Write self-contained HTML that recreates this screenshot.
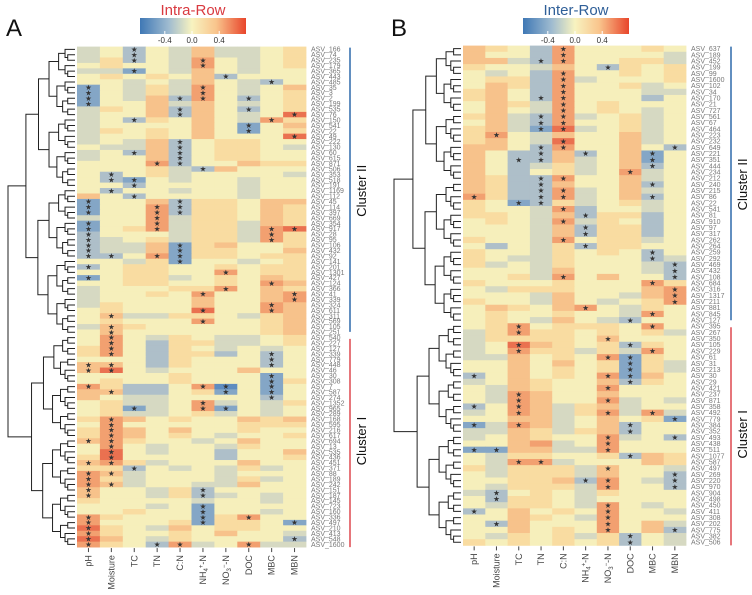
<!DOCTYPE html>
<html><head><meta charset="utf-8"><style>
body{margin:0;background:#fff;}
svg{display:block;font-family:"Liberation Sans",Arial,sans-serif;}
</style></head><body>
<svg id="chart" width="752" height="595" viewBox="0 0 752 595" xmlns="http://www.w3.org/2000/svg">
<defs>
<linearGradient id="cbar" x1="0" x2="1" y1="0" y2="0">
<stop offset="0" stop-color="#3f78b5"/><stop offset="0.27" stop-color="#9fbbd0"/>
<stop offset="0.49" stop-color="#f8f3c0"/><stop offset="0.72" stop-color="#f9c48c"/>
<stop offset="1" stop-color="#e8452b"/></linearGradient>
</defs>
<g id="panelA"></g>
<g id="panelB"></g>
</svg>
<script>
const variables = ["pH","Moisture","TC","TN","C:N","NH4+-N","NO3--N","DOC","MBC","MBN"];
const labelsA = [166,74,235,179,365,443,485,35,3,2,199,535,76,150,541,22,49,222,130,60,615,871,506,353,518,191,1169,112,45,114,397,669,354,917,28,95,106,432,92,141,201,1301,427,124,366,41,339,324,611,311,569,105,251,540,227,127,339,779,448,46,30,308,7,587,274,1352,965,289,168,595,216,617,694,13,535,436,451,371,88,189,242,151,187,145,723,160,336,497,210,413,548,1600];
const labelsB = [637,189,452,199,99,1600,102,34,170,21,727,561,67,464,223,232,649,221,351,444,234,212,240,215,86,22,541,81,910,97,317,262,264,259,292,469,432,108,684,316,1317,211,881,845,127,395,267,350,105,229,61,31,213,30,29,421,237,871,358,492,779,384,352,493,438,511,1077,587,497,269,220,970,904,498,450,411,308,202,775,382,506];
const valueUnit = 0.15;
const valuesA = [
[-1,0,-2,0,-1,2,-1,-1,0,1],[-1,0,-2,0,-1,2,-1,-1,0,1],[-1,1,-2,0,-1,3,0,-1,0,1],[0,1,0,0,-1,3,0,-1,0,1],[-1,-1,-3,0,-1,2,0,-1,0,0],
[0,1,0,1,0,2,-2,0,0,0],[0,0,-1,0,-1,2,0,-1,-2,0],[-3,0,-1,1,-1,3,0,-1,0,2],[-3,0,-1,1,-1,3,0,-1,0,1],[-3,0,-1,2,-2,3,0,-2,0,1],
[-3,0,0,2,-1,2,0,-1,0,1],[-1,1,0,2,-2,2,0,-2,0,1],[-1,0,0,2,-2,2,0,-1,0,4],[-1,0,-2,1,0,2,0,-1,3,1],[-1,0,0,0,0,2,0,-3,0,2],
[-1,1,0,1,0,2,0,-3,0,1],[-1,0,0,1,0,2,0,0,0,4],[-1,0,-1,2,-2,0,1,1,0,0],[0,-1,-1,2,-2,0,1,1,0,-1],[-1,0,-2,2,-2,0,1,1,0,0],
[-1,0,0,2,-2,0,1,1,0,0],[0,0,0,3,-2,0,0,2,1,1],[0,0,0,1,-1,-2,2,0,0,0],[0,-2,0,1,-1,0,0,0,0,-1],[0,-2,-3,0,-1,0,0,-1,0,0],
[0,0,-2,0,0,0,0,-1,0,0],[0,-2,0,0,-1,0,0,-1,0,0],[2,0,-2,0,0,0,0,-1,0,0],[-3,0,0,2,-2,1,1,0,2,2],[-3,0,0,3,-2,1,1,0,2,1],
[-3,0,0,3,-2,1,1,0,2,1],[-1,0,0,3,-1,1,1,0,2,1],[-3,0,0,3,-1,1,1,-1,2,1],[-3,0,1,3,-1,1,1,-1,3,4],[-2,0,0,0,-1,1,1,-1,3,1],
[-2,-1,0,1,-1,1,1,-1,3,1],[-2,-1,-1,2,-3,1,2,0,0,1],[-2,-1,-1,2,-3,1,1,0,0,2],[-2,-2,0,3,-3,1,1,0,1,1],[0,0,-1,1,-3,0,0,-1,0,1],
[-2,0,1,1,0,0,1,0,1,1],[0,0,1,1,0,0,3,0,1,1],[-3,0,1,1,-1,0,1,0,2,1],[0,0,1,1,0,0,1,0,3,2],[-1,0,0,0,1,1,3,0,2,1],
[-1,0,0,1,0,3,0,0,2,3],[-1,0,0,0,0,2,0,0,2,3],[-1,1,0,0,0,2,0,0,3,2],[0,1,0,0,0,4,0,0,3,2],[0,2,-1,-1,1,1,0,-1,1,2],
[0,1,0,0,0,3,0,0,1,2],[-1,2,1,0,0,0,0,0,1,2],[0,2,0,0,0,0,0,0,1,2],[0,3,0,-1,1,0,-1,-1,0,1],[0,3,0,-2,1,1,-1,-1,0,1],
[1,3,0,-2,1,0,-1,0,-1,0],[1,3,0,-2,1,1,-2,0,-2,0],[0,0,0,-2,1,0,0,0,-2,0],[2,2,0,-2,1,0,0,0,-2,0],[2,4,0,-1,0,0,0,2,0,0],
[0,0,0,0,1,0,0,0,-3,0],[0,1,0,0,1,0,0,0,-3,1],[3,1,-2,-2,0,3,-4,0,-3,0],[2,2,-2,-2,0,1,-3,0,-3,0],[2,0,-1,-1,0,0,0,0,-2,0],
[0,1,-1,-1,0,3,-1,0,-1,1],[0,1,-3,-1,0,3,-3,0,-1,0],[0,1,-1,-1,0,1,-1,0,-1,0],[1,3,2,0,1,0,0,2,1,2],[0,3,0,0,0,0,0,1,1,1],
[1,3,2,0,2,0,0,1,0,0],[1,3,2,0,1,0,-1,0,0,1],[2,3,1,0,0,-1,0,2,0,0],[0,3,0,-1,0,0,-1,1,0,0],[0,4,0,-1,0,0,-2,0,0,2],
[1,4,0,0,0,0,-2,0,0,1],[2,3,1,-1,0,0,0,2,0,0],[1,1,-2,0,-1,0,-1,1,-1,0],[3,2,-1,0,0,0,-1,0,0,0],[3,1,-1,0,0,0,-1,1,-1,0],
[3,2,-1,0,0,-1,-1,2,0,0],[2,0,0,-1,1,-2,0,0,0,0],[2,0,0,-1,1,-2,-1,0,-1,0],[1,0,0,0,0,-1,0,0,-1,0],[0,0,0,-1,0,-3,0,0,0,0],
[0,0,1,0,0,-3,0,0,-1,0],[3,1,0,0,0,-3,1,3,0,0],[3,0,0,0,1,-3,1,1,0,-3],[4,1,0,-1,2,0,1,1,0,0],[3,1,0,0,1,0,2,0,0,-1],
[4,2,0,-1,1,0,0,0,0,-2],[3,1,0,-2,3,-1,0,3,-1,-1]];
const starsA = ["0010000000","0010000000","0010010000","0000010000","0010000000","0000001000","0000000010","1000010000","1000010000","1000110100",
"1000000000","0000100100","0000100001","0010000010","0000000100","0000000100","0000000001","0000100000","0000100000","0010100000",
"0000100000","0001100000","0000010000","0100000000","0110000000","0010000000","0100000000","0010000000","1000100000","1001100000",
"1001100000","0001000000","1001000000","1001000011","1000000010","1000000010","1000100000","1000100000","1101100000","0000100000",
"1000000000","0000001000","1000000000","0000000010","0000001000","0000010001","0000000001","0000000010","0000010010","0100000000",
"0000010000","0100000000","0100000000","0100000000","0100000000","0100000000","0100000010","0000000010","1100000010","1100000000",
"0000000010","0000000010","1000011010","0100001010","0000000010","0000010000","0010011000","0000000000","0100000000","0100000000",
"0100000000","0100000000","1100000000","0100000000","0100000000","0100000000","1100000000","0010000000","1100000000","1000000000",
"1100000000","1000010000","1000010000","0000000000","0000010000","0000010000","1000010100","1000010001","1000000000","1000000000",
"1000000001","1001100100"];
const valuesB = [
[2,1,0,-2,3,0,0,0,1,0],[2,0,0,-2,3,0,0,0,0,-1],[2,2,-1,-2,3,0,0,1,1,-1],[1,0,0,-1,2,0,-2,1,0,1],[0,-1,0,-2,3,0,0,1,0,1],
[0,1,1,-2,3,-1,0,0,0,1],[0,2,1,-2,3,0,0,1,-1,0],[1,2,0,-2,3,0,0,0,-1,-1],[1,2,0,-2,3,0,0,0,-2,0],[0,2,1,-1,3,0,1,0,0,0],
[0,2,0,-1,3,0,1,0,-1,0],[1,2,-1,-2,3,-1,0,1,-1,0],[0,2,-1,-2,3,0,0,1,-1,0],[1,2,-1,-3,4,-1,0,1,-1,0],[1,3,0,-1,2,0,0,2,-1,0],
[1,2,0,-1,4,0,0,2,-1,0],[2,2,0,-2,3,0,0,2,0,-2],[2,0,-2,-2,2,-2,0,2,-3,0],[2,0,-2,-2,2,-1,0,2,-3,0],[2,0,-2,-1,1,-1,0,2,-2,0],
[2,0,-2,0,1,-1,0,3,-1,0],[2,1,-2,-2,3,0,0,2,-1,0],[2,1,-2,-2,2,0,0,2,-2,0],[2,1,-2,-2,3,-1,0,2,-1,0],[3,1,-2,-2,3,-1,0,2,-2,0],
[1,0,-3,-2,1,-1,0,1,-1,0],[1,0,0,-1,3,-2,0,0,-1,0],[1,1,0,-1,2,-2,1,1,-2,0],[0,1,0,-1,3,-1,1,0,-2,0],[0,0,0,-1,2,-2,1,1,-2,0],
[0,0,0,-1,2,-2,1,1,-2,0],[1,0,0,-1,3,0,1,1,-1,0],[0,-2,0,-1,1,-2,1,1,0,0],[1,0,0,-1,1,0,1,0,-2,0],[1,0,-1,-1,1,0,0,0,-2,-1],
[1,-1,0,-1,1,0,0,0,-1,-2],[0,0,0,-1,2,0,0,0,-1,-2],[0,0,1,-1,3,0,2,0,0,-2],[1,0,0,0,1,0,0,0,3,1],[0,-1,1,1,1,0,0,0,2,3],
[0,0,0,-1,2,0,0,-1,2,3],[1,0,0,-1,2,0,-1,0,1,3],[0,2,1,0,2,3,0,-1,1,0],[0,1,0,0,1,0,0,-1,3,0],[0,1,0,-1,2,0,-1,-2,0,0],
[0,1,3,0,1,1,1,0,3,0],[-1,1,3,1,1,0,1,0,1,-1],[-1,1,1,1,1,0,2,0,0,0],[-1,0,4,2,1,0,1,-2,1,0],[-1,0,3,1,1,-1,1,-1,3,0],
[-1,-1,2,0,1,0,3,-3,1,0],[0,0,2,0,2,0,1,-3,1,-1],[0,0,2,0,1,0,1,-3,1,-1],[-2,0,2,0,1,0,3,-3,2,0],[-1,0,2,1,0,0,2,-2,1,0],
[0,-1,2,1,0,0,3,0,0,0],[0,-1,3,2,0,0,2,0,0,0],[0,-1,3,2,0,0,3,-1,0,-1],[-2,0,3,2,-1,1,2,-1,0,0],[-1,0,3,2,-1,1,3,-1,3,-1],
[0,0,2,2,-1,0,2,0,1,-3],[-3,-1,3,2,-1,0,2,-2,0,0],[-1,-1,2,1,-1,1,2,-2,0,0],[-1,0,2,1,0,0,3,-1,0,-2],[0,0,2,3,-1,0,3,0,0,0],
[-3,-3,2,2,-1,-1,3,0,0,0],[0,-1,1,1,0,0,1,-2,2,1],[0,-1,3,3,-1,0,0,0,2,1],[1,-1,1,1,1,-1,2,0,0,-1],[0,-1,1,1,1,-1,2,0,0,-2],
[0,0,1,1,2,-2,3,0,-1,-2],[0,-1,1,1,1,-1,3,0,0,-2],[-1,-2,0,1,0,-1,1,0,0,0],[0,-2,1,1,0,-1,0,0,0,0],[0,-1,1,1,0,-1,3,0,-1,0],
[-2,0,2,0,1,0,3,0,0,-1],[0,0,2,1,0,-1,3,0,0,0],[0,-2,2,0,0,0,3,0,2,-1],[0,0,2,0,1,0,3,0,2,-2],[0,-1,1,0,1,-1,1,-2,0,-1],
[1,0,1,0,1,0,1,-2,0,-1]];
const starsB = ["0000100000","0000100000","0001100000","0000001000","0000100000","0000100000","0000100000","0000100000","0001100000","0000100000",
"0000100000","0001100000","0001100000","0001100000","0100000000","0000100000","0001100001","0001010010","0011000010","0000000010",
"0000000100","0001100000","0001000010","0001100000","1001100010","0011000000","0000100000","0000010000","0000100000","0000010000",
"0000010000","0000100000","0000010000","0000000010","0000000010","0000000001","0000000001","0000100001","0000000010","0000000001",
"0000000001","0000000001","0000010000","0000000010","0000000100","0010000010","0010000000","0000001000","0010000100","0010000010",
"0000001100","0000000100","0000000100","1000001100","0000000100","0000001000","0010000000","0010001000","1010000000","0010001010",
"0000000001","1010000100","0000000100","0000001001","0000001000","1100001000","0000000100","0011000000","0000001000","0000000001",
"0000011001","0000001001","0100000000","0100000000","0000001000","1000001000","0000001000","0100001000","0000001001","0000000100",
"0000000100"];
const tickValues = [-0.4, 0.0, 0.4];

const NS="http://www.w3.org/2000/svg";
function mk(tag, attrs, parent){const e=document.createElementNS(NS,tag);for(const k in attrs)e.setAttribute(k,attrs[k]);if(parent)parent.appendChild(e);return e;}
const stops=[[-0.6,[94,140,192]],[-0.45,[132,166,198]],[-0.3,[174,191,201]],[-0.15,[214,217,194]],[0,[246,239,187]],[0.15,[249,220,161]],[0.3,[247,194,139]],[0.45,[242,160,112]],[0.6,[234,113,80]]];
function color(v){v=Math.max(-0.6,Math.min(0.6,v));for(let i=0;i<stops.length-1;i++){const a=stops[i],b=stops[i+1];if(v<=b[0]){const t=(v-a[0])/(b[0]-a[0]);const c=a[1].map((x,j)=>Math.round(x+(b[1][j]-x)*t));return `rgb(${c})`;}}return 'rgb(234,113,80)';}

function drawPanel(g, cfg){
  const {x0,y0,colW,rowH,values,stars,labels,split,rootX,title,titleColor,cbX,letter,letterX,lineX,clusterLabelX} = cfg;
  const n=values.length;
  const xs=c=>x0+c*colW, ys=r=>y0+r*rowH;
  mk('text',{x:letterX,y:36,'font-size':24,fill:'#111',},g).textContent=letter;
  const t=mk('text',{x:cbX+53,y:15,'font-size':15,fill:titleColor,'text-anchor':'middle'},g);t.textContent=title;
  
  
  const cb=mk('rect',{x:cbX,y:18,width:106,height:16,fill:'url(#cbar)'},g);
  
  
  const cbScale=v=>cbX+52+v*68;
  tickValues.forEach(v=>{
    mk('line',{x1:cbScale(v),x2:cbScale(v),y1:31,y2:34,stroke:'#fff','stroke-width':1},g);
    const tl=mk('text',{x:cbScale(v),y:43,'font-size':8,fill:'#333','text-anchor':'middle'},g);
    tl.textContent=v.toFixed(1);
    
    
  });
  const hm=mk('g',{},g);
  
  
  for(let r=0;r<n;r++)for(let c=0;c<10;c++){
    const cell=mk('rect',{x:xs(c),y:ys(r),width:colW+0.4,height:rowH+0.4,fill:color(values[r][c]*valueUnit)},hm);
    
    
    if(stars[r][c]==='1'){
      const s=mk('text',{x:xs(c)+colW/2,y:ys(r)+rowH/2+2.6,'font-size':7.5,fill:'#333','text-anchor':'middle'},hm);
      s.textContent='★';
      
      
    }
  }
  labels.forEach((l,r)=>{
    const tx=mk('text',{x:xs(10)+5,y:ys(r)+rowH/2+2.4,'font-size':7,fill:'#777'},g);
    tx.textContent='ASV_'+l;
    
    
  });
  const yb=ys(n);
  variables.forEach((v,c)=>{
    const cx=xs(c)+colW/2;
    mk('line',{x1:cx,x2:cx,y1:yb+1,y2:yb+5,stroke:'#444','stroke-width':1},g);
    const tx=mk('text',{transform:`translate(${cx+3},${yb+8}) rotate(-90)`,'font-size':9,fill:'#444','text-anchor':'end'},g);
    
    
    if(v==='NH4+-N'){tx.innerHTML='NH<tspan font-size="6" dy="2">4</tspan><tspan font-size="6" dy="-5">+</tspan><tspan dy="3">-N</tspan>';}
    else if(v==='NO3--N'){tx.innerHTML='NO<tspan font-size="6" dy="2">3</tspan><tspan font-size="6" dy="-5">−</tspan><tspan dy="3">-N</tspan>';}
    else tx.textContent=v;
  });
  // dendrogram
  const leafX=x0-2, N=n;
  const dg=mk('g',{stroke:'#222','stroke-width':1,fill:'none'},g);
  
  
  function build(lo,hi,isRoot){
    const size=hi-lo;
    if(size===1)return {x:leafX,y:ys(lo)+rowH/2};
    let m=isRoot?lo+split:lo+Math.floor(size/2);
    const a=build(lo,m,false),b=build(m,hi,false);
    const x=isRoot?rootX:leafX-5-(leafX-rootX-12)*Math.pow(Math.log(size)/Math.log(N),1.7);
    mk('path',{d:`M${a.x},${a.y}H${x}V${b.y}H${b.x}`},dg);
    return {x:x,y:(a.y+b.y)/2};
  }
  build(0,n,true);
  // cluster bars
  const yS=ys(split);
  mk('line',{x1:lineX,x2:lineX,y1:ys(0)+1,y2:yS-3,stroke:'#3b73b0','stroke-width':1.6,},g);
  mk('line',{x1:lineX,x2:lineX,y1:yS+4,y2:yb,stroke:'#e0545a','stroke-width':1.6,},g);
  const c2=mk('text',{transform:`translate(${clusterLabelX},${(ys(0)+yS)/2}) rotate(-90)`,'font-size':13,fill:'#111','text-anchor':'middle'},g);c2.textContent='Cluster II';
  
  
  const c1=mk('text',{transform:`translate(${clusterLabelX},${(yS+yb)/2}) rotate(-90)`,'font-size':13,fill:'#111','text-anchor':'middle'},g);c1.textContent='Cluster I';
  
  
}
drawPanel(document.getElementById('panelA'),{x0:77,y0:46.6,colW:22.9,rowH:5.44,values:valuesA,stars:starsA,labels:labelsA,split:53,rootX:8,title:'Intra-Row',titleColor:'#d93a40',cbX:140,letter:'A',letterX:6,lineX:350,clusterLabelX:366});
drawPanel(document.getElementById('panelB'),{x0:463,y0:45.6,colW:22.3,rowH:6.17,values:valuesB,stars:starsB,labels:labelsB,split:45,rootX:394,title:'Inter-Row',titleColor:'#2f5f98',cbX:523,letter:'B',letterX:391,lineX:731,clusterLabelX:747});
</script>
</body></html>
